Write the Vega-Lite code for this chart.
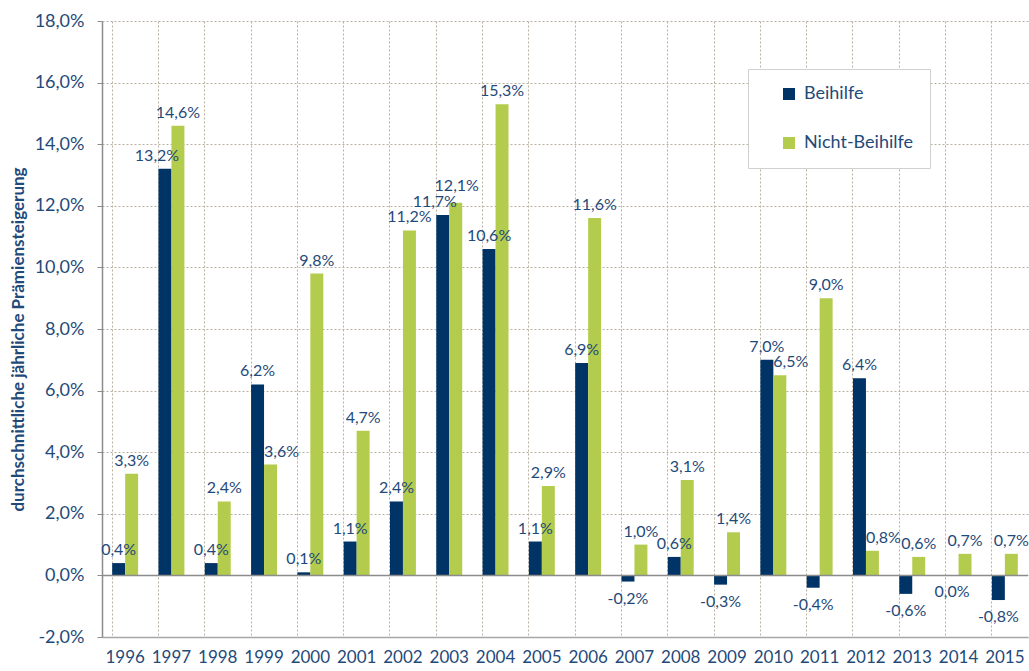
{
  "$schema": "https://vega.github.io/schema/vega-lite/v6.json",
  "width": 926,
  "height": 616,
  "autosize": {"type": "none"},
  "padding": {"left": 102, "top": 21, "right": 1, "bottom": 34},
  "background": "white",
  "config": {
    "locale": {"number": {"decimal": ",", "thousands": ".", "grouping": [3], "currency": ["", " €"], "minus": "-"}},
    "view": {"stroke": null},
    "font": "Lato"
  },
  "data": {
    "values": [
      {"Jahr": "1996", "Reihe": "Beihilfe", "Wert": 0.004}, {"Jahr": "1996", "Reihe": "Nicht-Beihilfe", "Wert": 0.033},
      {"Jahr": "1997", "Reihe": "Beihilfe", "Wert": 0.132}, {"Jahr": "1997", "Reihe": "Nicht-Beihilfe", "Wert": 0.146},
      {"Jahr": "1998", "Reihe": "Beihilfe", "Wert": 0.004}, {"Jahr": "1998", "Reihe": "Nicht-Beihilfe", "Wert": 0.024},
      {"Jahr": "1999", "Reihe": "Beihilfe", "Wert": 0.062}, {"Jahr": "1999", "Reihe": "Nicht-Beihilfe", "Wert": 0.036},
      {"Jahr": "2000", "Reihe": "Beihilfe", "Wert": 0.001}, {"Jahr": "2000", "Reihe": "Nicht-Beihilfe", "Wert": 0.098},
      {"Jahr": "2001", "Reihe": "Beihilfe", "Wert": 0.011}, {"Jahr": "2001", "Reihe": "Nicht-Beihilfe", "Wert": 0.047},
      {"Jahr": "2002", "Reihe": "Beihilfe", "Wert": 0.024}, {"Jahr": "2002", "Reihe": "Nicht-Beihilfe", "Wert": 0.112},
      {"Jahr": "2003", "Reihe": "Beihilfe", "Wert": 0.117}, {"Jahr": "2003", "Reihe": "Nicht-Beihilfe", "Wert": 0.121},
      {"Jahr": "2004", "Reihe": "Beihilfe", "Wert": 0.106}, {"Jahr": "2004", "Reihe": "Nicht-Beihilfe", "Wert": 0.153},
      {"Jahr": "2005", "Reihe": "Beihilfe", "Wert": 0.011}, {"Jahr": "2005", "Reihe": "Nicht-Beihilfe", "Wert": 0.029},
      {"Jahr": "2006", "Reihe": "Beihilfe", "Wert": 0.069}, {"Jahr": "2006", "Reihe": "Nicht-Beihilfe", "Wert": 0.116},
      {"Jahr": "2007", "Reihe": "Beihilfe", "Wert": -0.002}, {"Jahr": "2007", "Reihe": "Nicht-Beihilfe", "Wert": 0.010},
      {"Jahr": "2008", "Reihe": "Beihilfe", "Wert": 0.006}, {"Jahr": "2008", "Reihe": "Nicht-Beihilfe", "Wert": 0.031},
      {"Jahr": "2009", "Reihe": "Beihilfe", "Wert": -0.003}, {"Jahr": "2009", "Reihe": "Nicht-Beihilfe", "Wert": 0.014},
      {"Jahr": "2010", "Reihe": "Beihilfe", "Wert": 0.070}, {"Jahr": "2010", "Reihe": "Nicht-Beihilfe", "Wert": 0.065},
      {"Jahr": "2011", "Reihe": "Beihilfe", "Wert": -0.004}, {"Jahr": "2011", "Reihe": "Nicht-Beihilfe", "Wert": 0.090},
      {"Jahr": "2012", "Reihe": "Beihilfe", "Wert": 0.064}, {"Jahr": "2012", "Reihe": "Nicht-Beihilfe", "Wert": 0.008},
      {"Jahr": "2013", "Reihe": "Beihilfe", "Wert": -0.006}, {"Jahr": "2013", "Reihe": "Nicht-Beihilfe", "Wert": 0.006},
      {"Jahr": "2014", "Reihe": "Beihilfe", "Wert": 0.0}, {"Jahr": "2014", "Reihe": "Nicht-Beihilfe", "Wert": 0.007},
      {"Jahr": "2015", "Reihe": "Beihilfe", "Wert": -0.008}, {"Jahr": "2015", "Reihe": "Nicht-Beihilfe", "Wert": 0.007}
    ]
  },
  "layer": [
    {
      "mark": {"type": "bar"},
      "encoding": {
        "x": {
          "field": "Jahr", "type": "nominal",
          "scale": {"paddingInner": 0.44, "paddingOuter": 0.22},
          "axis": {
            "title": null, "labelAngle": 0, "labelFontSize": 17, "labelColor": "#1f4a7a",
            "labelPadding": 12, "ticks": false, "domain": true, "domainColor": "#a6a6a6", "domainWidth": 1.5,
            "grid": true, "bandPosition": 0, "gridDash": [2, 2], "gridColor": "#b8b0a0"
          }
        },
        "xOffset": {"field": "Reihe", "type": "nominal", "sort": ["Beihilfe", "Nicht-Beihilfe"]},
        "y": {
          "field": "Wert", "type": "quantitative",
          "scale": {"domain": [-0.02, 0.18], "nice": false},
          "axis": {
            "values": [-0.02, 0, 0.02, 0.04, 0.06, 0.08, 0.1, 0.12, 0.14, 0.16, 0.18],
            "format": ".1%", "labelFontSize": 18, "labelColor": "#1f4a7a", "labelPadding": 13,
            "tickSize": 5, "tickColor": "#8c8c8c", "domainColor": "#8c8c8c", "domainWidth": 1.5,
            "grid": true, "gridDash": [2, 2], "gridColor": "#b8b0a0",
            "title": "durchschnittliche jährliche Prämiensteigerung",
            "titleFontSize": 17, "titleFontWeight": "bold", "titleColor": "#1f4a7a",
            "titleX": -84, "titleY": 318, "titleBaseline": "middle", "titleAlign": "center", "titleAngle": 270
          }
        },
        "color": {
          "field": "Reihe", "type": "nominal",
          "scale": {"domain": ["Beihilfe", "Nicht-Beihilfe"], "range": ["#003366", "#b3cc4e"]},
          "legend": {
            "orient": "none", "legendX": 646, "legendY": 48, "title": null,
            "padding": 16, "strokeColor": "#d0d0d0", "fillColor": "white",
            "symbolType": "square", "symbolSize": 144, "symbolStrokeWidth": 0,
            "labelFontSize": 18, "labelColor": "#1f4a7a", "rowPadding": 31, "labelOffset": 6,
            "symbolOffset": 16
          }
        }
      }
    },
    {
      "data": {"values": [{}]},
      "mark": {"type": "rule", "color": "#8c8c8c", "strokeWidth": 1.5},
      "encoding": {"y": {"datum": 0, "type": "quantitative"}}
    },
    {
      "transform": [{"filter": "datum.Wert > 0 && !((datum.Reihe == 'Beihilfe' && (datum.Jahr == '1997' || datum.Jahr == '2003')) || (datum.Reihe == 'Nicht-Beihilfe' && (datum.Jahr == '1999' || datum.Jahr == '2003' || datum.Jahr == '2010' || datum.Jahr == '2012')))"}],
      "mark": {"type": "text", "baseline": "bottom", "dy": -5, "fontSize": 16, "color": "#1f4a7a"},
      "encoding": {
        "x": {"field": "Jahr", "type": "nominal"},
        "xOffset": {"field": "Reihe", "type": "nominal", "sort": ["Beihilfe", "Nicht-Beihilfe"]},
        "y": {"field": "Wert", "type": "quantitative"},
        "text": {"field": "Wert", "type": "quantitative", "format": ".1%"}
      }
    },
    {
      "transform": [{"filter": "datum.Reihe == 'Beihilfe' && (datum.Jahr == '1997' || datum.Jahr == '2003')"}],
      "mark": {"type": "text", "baseline": "bottom", "dy": -5, "dx": -8, "fontSize": 16, "color": "#1f4a7a"},
      "encoding": {
        "x": {"field": "Jahr", "type": "nominal"},
        "xOffset": {"field": "Reihe", "type": "nominal", "sort": ["Beihilfe", "Nicht-Beihilfe"]},
        "y": {"field": "Wert", "type": "quantitative"},
        "text": {"field": "Wert", "type": "quantitative", "format": ".1%"}
      }
    },
    {
      "transform": [{"filter": "datum.Reihe == 'Nicht-Beihilfe' && datum.Jahr == '2003'"}],
      "mark": {"type": "text", "baseline": "bottom", "dy": -9, "dx": 1, "fontSize": 16, "color": "#1f4a7a"},
      "encoding": {
        "x": {"field": "Jahr", "type": "nominal"},
        "xOffset": {"field": "Reihe", "type": "nominal", "sort": ["Beihilfe", "Nicht-Beihilfe"]},
        "y": {"field": "Wert", "type": "quantitative"},
        "text": {"field": "Wert", "type": "quantitative", "format": ".1%"}
      }
    },
    {
      "transform": [{"filter": "datum.Reihe == 'Nicht-Beihilfe' && (datum.Jahr == '1999' || datum.Jahr == '2010' || datum.Jahr == '2012')"}],
      "mark": {"type": "text", "baseline": "bottom", "dy": -5, "dx": 11, "fontSize": 16, "color": "#1f4a7a"},
      "encoding": {
        "x": {"field": "Jahr", "type": "nominal"},
        "xOffset": {"field": "Reihe", "type": "nominal", "sort": ["Beihilfe", "Nicht-Beihilfe"]},
        "y": {"field": "Wert", "type": "quantitative"},
        "text": {"field": "Wert", "type": "quantitative", "format": ".1%"}
      }
    },
    {
      "transform": [{"filter": "datum.Wert <= 0"}],
      "mark": {"type": "text", "baseline": "top", "dy": 9, "fontSize": 16, "color": "#1f4a7a"},
      "encoding": {
        "x": {"field": "Jahr", "type": "nominal"},
        "xOffset": {"field": "Reihe", "type": "nominal", "sort": ["Beihilfe", "Nicht-Beihilfe"]},
        "y": {"field": "Wert", "type": "quantitative"},
        "text": {"field": "Wert", "type": "quantitative", "format": ".1%"}
      }
    }
  ]
}
